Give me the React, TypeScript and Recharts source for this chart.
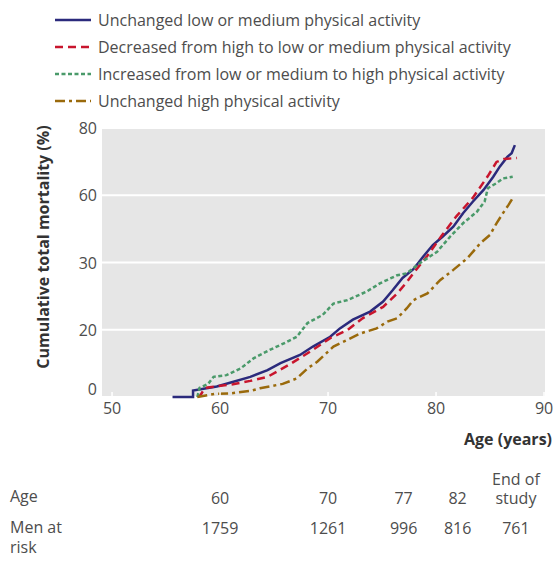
import { LineChart, Line, XAxis, YAxis, CartesianGrid } from 'recharts'

// Cumulative total mortality by change in physical activity
const seriesNames = [
  'Unchanged low or medium physical activity',
  'Decreased from high to low or medium physical activity',
  'Increased from low or medium to high physical activity',
  'Unchanged high physical activity',
]

const blueAges = [55.6, 57.5, 57.5, 59.7, 61.0, 62.8, 64.4, 65.6, 67.4, 68.6, 70.2, 71.1, 72.3, 73.9, 75.1, 76.0, 76.9, 77.9, 78.8, 79.7, 80.6, 81.6, 82.5, 83.4, 84.4, 85.3, 85.9, 86.6, 87.0, 87.3]
const bluePct = [0, 0, 1.9, 3.1, 4.3, 6.0, 8.0, 10.1, 12.5, 15.0, 17.9, 20.2, 21.5, 22.7, 24.2, 25.9, 27.7, 29.0, 32.6, 37.8, 41.5, 46.0, 52.0, 57.1, 61.6, 65.5, 68.5, 71.4, 72.5, 74.9]

const redAges = [57.9, 58.2, 58.6, 61.2, 62.8, 64.4, 66.5, 68.6, 70.2, 71.8, 73.2, 75.1, 76.4, 77.3, 77.9, 79.2, 80.5, 81.9, 83.4, 84.8, 85.6, 86.3, 87.5]
const redPct = [0, 0.6, 2.7, 3.8, 4.8, 6.0, 9.8, 14.0, 17.5, 19.9, 21.7, 23.4, 25.4, 27.1, 28.4, 33.0, 41.8, 50.7, 58.8, 65.7, 69.9, 70.8, 71.1]

const greenAges = [57.9, 58.1, 58.9, 59.4, 60.6, 61.9, 63.1, 64.6, 66.2, 67.1, 68.1, 69.5, 70.5, 71.8, 73.6, 74.8, 76.4, 77.3, 78.5, 80.1, 81.3, 82.5, 83.8, 84.5, 84.8, 85.6, 86.2, 87.1]
const greenPct = [0, 2.7, 3.9, 6.0, 6.5, 8.5, 11.5, 14.0, 16.4, 17.9, 21.0, 22.2, 23.9, 24.4, 25.7, 26.9, 28.1, 28.4, 29.9, 34.8, 41.5, 47.5, 52.7, 57.2, 62.1, 63.6, 65.0, 65.5]

const brownAges = [57.9, 59.5, 61.0, 62.8, 63.7, 65.8, 67.1, 68.1, 69.0, 70.5, 71.8, 73.0, 74.5, 75.5, 76.4, 77.3, 77.9, 79.2, 80.4, 81.6, 82.9, 84.1, 85.0, 85.6, 86.2, 86.7, 87.1]
const brownPct = [0, 0.9, 1.1, 1.8, 2.6, 3.9, 5.5, 8.5, 10.5, 15.0, 17.0, 18.9, 20.2, 21.2, 21.7, 23.2, 24.4, 25.4, 27.4, 28.9, 31.9, 38.6, 42.3, 47.5, 52.0, 55.6, 58.7]

// y axis labels are evenly spaced but not linear in value
const yTickValues = [0, 20, 30, 60, 80]
const xTicks = [50, 60, 70, 80, 90]

// at-risk table
const riskAges = [60, 70, 77, 82, 87.4]
const riskAgeLabels = ['60', '70', '77', '82', 'End of\nstudy']
const menAtRisk = [1759, 1261, 996, 816, 761]

const COLORS = ['#2b2a7c', '#c8152d', '#4a9a6a', '#9a6a0c']
const DASHES = [undefined, '8 5', '4 2.5', '10 4 3 4']
const FONT = '"Open Sans", "Noto Sans", sans-serif'
const TEXT = '#4d4d4d'
const FS = 16

const PLOT = { left: 102, right: 545, top: 128, bottom: 397 }
const X_MIN = 49.07
const X_MAX = 90.09

// piecewise map from percent onto the evenly spaced tick positions
function toAxis(pct: number) {
  for (let i = 1; i < yTickValues.length; i++) {
    if (pct <= yTickValues[i]) {
      const lo = yTickValues[i - 1]
      const hi = yTickValues[i]
      return i - 1 + (pct - lo) / (hi - lo)
    }
  }
  return yTickValues.length - 1
}

const mk = (ages: number[], pct: number[]) => ages.map((a, i) => ({ age: a, y: toAxis(pct[i]) }))
const seriesData = [mk(blueAges, bluePct), mk(redAges, redPct), mk(greenAges, greenPct), mk(brownAges, brownPct)]

const ageToPx = (a: number) => PLOT.left + ((a - X_MIN) / (X_MAX - X_MIN)) * (PLOT.right - PLOT.left)

function XTick(props: any) {
  const { x, payload } = props
  return (
    <g>
      <line x1={x} x2={x} y1={PLOT.bottom - 5} y2={PLOT.bottom} stroke="#fff" strokeWidth={1.5} />
      <text x={x} y={PLOT.bottom + 17} textAnchor="middle" fill={TEXT} fontSize={FS} fontFamily={FONT}>
        {payload.value}
      </text>
    </g>
  )
}

function YTick(props: any) {
  const { y, payload } = props
  const dy = payload.value === 0 ? -2 : 6
  return (
    <text x={97} y={y + dy} textAnchor="end" fill={TEXT} fontSize={FS} fontFamily={FONT}>
      {yTickValues[payload.value]}
    </text>
  )
}

export default function App() {
  return (
    <div style={{ position: 'absolute', left: 0, top: 0, width: 555, height: 570, background: '#fff', fontFamily: FONT, color: TEXT }}>
      {/* legend */}
      {seriesNames.map((name, i) => (
        <div key={name} style={{ position: 'absolute', left: 55, top: 9 + i * 27, height: 22, display: 'flex', alignItems: 'center', fontSize: FS }}>
          <svg width={36} height={10} style={{ marginRight: 7 }}>
            <line x1={0} x2={36} y1={5} y2={5} stroke={COLORS[i]} strokeWidth={2.5} strokeDasharray={DASHES[i]} />
          </svg>
          <span>{name}</span>
        </div>
      ))}

      {/* y axis title */}
      <div
        style={{
          position: 'absolute', left: 43, top: 247, width: 300, marginLeft: -150, textAlign: 'center',
          transform: 'translateY(-50%) rotate(-90deg)', fontSize: FS, fontWeight: 700, color: '#333',
        }}
      >
        Cumulative total mortality (%)
      </div>

      <div style={{ position: 'absolute', left: 0, top: 0 }}>
        <LineChart width={555} height={420} margin={{ top: PLOT.top, right: 555 - PLOT.right, bottom: 0, left: 40 }}>
          <CartesianGrid horizontal vertical={false} fill="#e6e6e6" stroke="#fff" strokeWidth={2} />
          <XAxis
            dataKey="age"
            type="number"
            domain={[X_MIN, X_MAX]}
            ticks={xTicks}
            allowDataOverflow
            axisLine={false}
            tickLine={false}
            height={420 - PLOT.bottom}
            tick={<XTick />}
          />
          <YAxis
            type="number"
            domain={[0, 4]}
            ticks={[0, 1, 2, 3, 4]}
            axisLine={false}
            tickLine={false}
            width={62}
            tick={<YTick />}
          />
          {seriesData.map((d, i) => (
            <Line
              key={seriesNames[i]}
              data={d}
              dataKey="y"
              type="linear"
              stroke={COLORS[i]}
              strokeWidth={2.5}
              strokeDasharray={DASHES[i]}
              dot={false}
              isAnimationActive={false}
            />
          ))}
        </LineChart>
      </div>

      <div style={{ position: 'absolute', right: 3, top: 428, fontSize: FS, fontWeight: 700, color: '#333' }}>Age (years)</div>

      {/* at-risk table */}
      <div style={{ position: 'absolute', left: 10, top: 485, fontSize: FS }}>Age</div>
      <div style={{ position: 'absolute', left: 10, top: 517, fontSize: FS, lineHeight: '20px' }}>
        Men at
        <br />
        risk
      </div>
      {riskAges.map((a, i) => (
        <div key={'a' + i}>
          <div
            style={{
              position: 'absolute', left: ageToPx(a) - 40, width: 80, bottom: 570 - 508, textAlign: 'center',
              fontSize: FS, lineHeight: '19px', whiteSpace: 'pre-line',
            }}
          >
            {riskAgeLabels[i]}
          </div>
          <div style={{ position: 'absolute', left: ageToPx(a) - 40, width: 80, top: 517, textAlign: 'center', fontSize: FS }}>
            {menAtRisk[i]}
          </div>
        </div>
      ))}
    </div>
  )
}
